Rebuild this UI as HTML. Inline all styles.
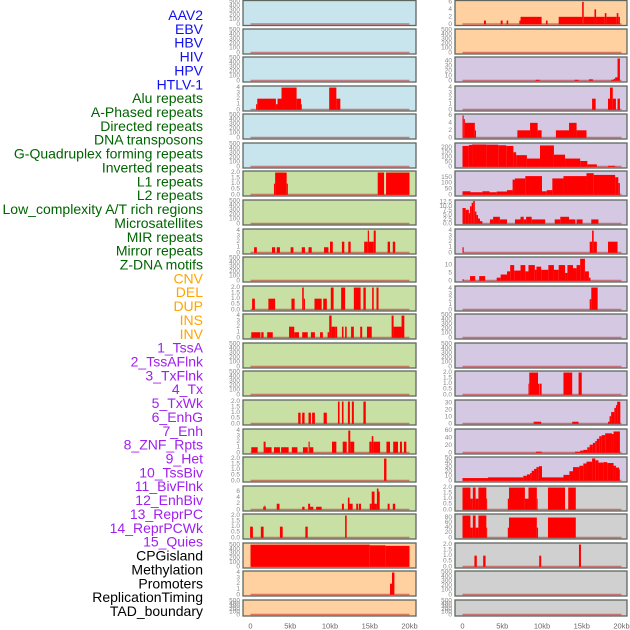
<!DOCTYPE html>
<html><head><meta charset="utf-8">
<style>
body{margin:0;background:#fff;}
svg{display:block;font-family:"Liberation Sans",sans-serif;}
</style></head>
<body>
<svg id="chart" width="630" height="630" viewBox="0 0 630 630" xmlns="http://www.w3.org/2000/svg"></svg>
<script>
// ---- labels ----
const labelNames = ["AAV2","EBV","HBV","HIV","HPV","HTLV-1","Alu repeats","A-Phased repeats","Directed repeats","DNA transposons","G-Quadruplex forming repeats","Inverted repeats","L1 repeats","L2 repeats","Low_complexity A/T rich regions","Microsatellites","MIR repeats","Mirror repeats","Z-DNA motifs","CNV","DEL","DUP","INS","INV","1_TssA","2_TssAFlnk","3_TxFlnk","4_Tx","5_TxWk","6_EnhG","7_Enh","8_ZNF_Rpts","9_Het","10_TssBiv","11_BivFlnk","12_EnhBiv","13_ReprPC","14_ReprPCWk","15_Quies","CPGisland","Methylation","Promoters","ReplicationTiming","TAD_boundary"];
const labelGroups = [0,0,0,0,0,0,1,1,1,1,1,1,1,1,1,1,1,1,1,2,2,2,2,2,3,3,3,3,3,3,3,3,3,3,3,3,3,3,3,4,4,4,4,4];
const groupColors = ["#1010ee","#006400","#ffa500","#a020f0","#000000"];
const xTicks = [0,5,10,15,20];
const xTickLabels = ["0","5kb","10kb","15kb","20kb"];

// ---- panel data: segments [startKb, endKb, value] ----
const L3 = [[0.7,0.85,1],[0.85,3.2,2],[3.2,3.4,1],[3.4,3.9,2],[3.9,5.8,4],[5.8,6.35,2],[6.35,6.45,1],[9.9,10.8,4],[10.8,11.3,2]];
const L6 = [[2.95,3.1,1],[3.1,4.55,2],[4.55,4.7,1],[16.0,16.8,2],[17.05,20,2]];
const L8 = [[0.45,0.8,1],[2.7,3.1,1],[3.3,3.7,1],[5.05,5.4,1],[6.45,6.85,1],[7.3,7.7,1],[9.25,9.8,1],[10,10.35,2],[11.5,11.8,2],[12.3,12.6,2],[14.3,14.75,2],[14.75,14.9,4],[14.9,15.5,2],[15.5,15.75,4],[17.25,17.55,2],[17.9,18.2,2]];
const L10 = [[0.2,0.55,1],[2.25,3.1,1],[5.15,5.55,1],[6.5,6.7,2],[6.7,6.85,1],[8.05,8.95,1],[9.15,9.6,1],[10.1,10.45,2],[11.4,11.9,2],[13.0,13.85,2],[14.2,14.5,2],[15.3,15.5,2],[15.85,16.1,2]];
const L11 = [[0.1,1.25,1],[1.35,1.65,1],[2.1,2.8,1],[4.85,5.15,2],[5.15,5.5,2],[5.5,6.1,1],[6.5,7.2,1],[7.6,8.1,1],[8.75,9.1,1],[9.7,9.9,1],[9.9,10.2,4],[10.2,10.65,2],[10.65,10.9,2],[11.5,11.7,2],[11.9,12.1,2],[12.65,13,2],[13.8,14.05,2],[14.65,15.25,2],[17.75,18,4],[18,19,2],[19,19.35,4]];
const L14 = [[6,6.3,1],[6.5,6.8,1],[7.3,7.6,1],[7.75,8.1,1],[9.2,9.6,1],[11,11.2,2],[11.5,11.7,2],[12.25,12.5,2],[12.75,13,2],[14.2,14.5,2]];
const L15 = [[0.1,0.9,1],[1.65,1.9,2],[1.9,2.65,1],[2.95,3.7,1],[3.85,4.8,1],[5.2,5.9,1],[6.6,7.2,1],[7.3,7.45,2],[7.45,7.9,1],[10.25,10.8,2],[11.6,12.1,2],[12.3,12.55,4],[12.55,13.05,2],[14.95,15.25,2],[15.25,15.45,3],[15.45,16.3,2],[17.1,17.55,2],[17.95,18.55,2],[18.8,19.05,2],[19.3,19.6,2]];
const L16 = [[16.8,17.1,2]];
const L17 = [[1.6,1.75,1],[1.75,1.85,1.4],[1.85,1.95,1],[3.3,3.65,2],[6.5,6.8,1],[7.25,7.5,2],[7.5,7.9,1],[8.25,8.95,1],[11.5,11.75,2],[12.25,12.45,4],[12.45,12.85,2],[13.3,13.55,2],[13.65,13.9,2],[15,15.25,2],[15.25,15.6,6],[15.6,15.9,2],[15.9,16.1,7],[16.1,16.25,6],[17.25,17.5,2],[17.9,18.2,2]];
const L18 = [[-0.05,0.3,1],[1.3,1.65,1],[3.7,4.05,1],[6.9,7.2,1],[11.9,12.1,2]];
const L19 = [[0,15,505],[15,17,490],[17,20,478]];
const L20 = [[17.55,17.8,2],[17.8,18.1,4]];

const R0 = [[2.7,2.95,1],[4.8,5.05,1],[5.55,5.75,1],[7.15,7.3,1],[7.3,9.95,2],[10.5,10.7,1],[12.1,15.05,2],[15.05,15.25,6],[15.25,16.6,2],[16.6,16.8,4],[16.8,17.9,2],[17.9,18.1,3],[18.1,19.4,2],[19.4,19.6,3],[19.6,19.8,2]];
const R2 = [[9.2,9.7,2],[14.1,14.6,2],[15.9,16.4,3],[18.7,19,2],[19,19.2,4],[19.2,19.5,7],[19.5,19.8,45]];
const R3 = [[16.3,16.75,2],[18.3,18.55,2],[18.55,18.9,4],[18.9,19.3,2],[19.5,19.8,2]];
const R4 = [[0,0.15,6],[0.15,0.3,5],[0.3,1.55,4],[1.55,1.7,2],[6.9,8.5,2],[8.5,9.45,4],[9.45,9.95,2],[11.75,13.4,2],[13.4,14.35,4],[14.35,15.6,2]];
const R5 = [[0,0.8,215],[0.8,1.2,225],[1.2,3,230],[3,4.5,228],[4.5,5.5,222],[5.5,6.4,215],[6.4,6.75,150],[6.75,8.1,120],[8.1,9.75,85],[9.75,11.5,220],[11.5,12.9,125],[12.9,14.8,85],[14.8,15.7,60],[15.7,16.9,25],[18.3,19.2,10]];
const R6 = [[0,1,30],[1,2.5,22],[2.5,3.4,30],[3.4,4.3,22],[4.3,5.6,28],[5.6,6.3,40],[6.3,6.6,130],[6.6,7.9,140],[7.9,10,160],[10,10.6,30],[10.6,11.3,40],[11.3,12.7,140],[12.7,15.6,160],[15.6,16.5,185],[16.5,19.2,170],[19.2,19.6,150],[19.6,19.8,100]];
const R7 = [[0,0.4,9],[0.4,0.8,8],[0.8,0.95,6],[0.95,1.15,10],[1.15,1.35,12],[1.35,1.55,13],[1.55,1.75,7],[1.75,1.95,5],[1.95,2.2,3],[2.2,2.5,1.5],[3.45,3.85,2.5],[3.85,4.7,4],[4.7,5.6,2.5],[6.6,7.3,2.5],[7.3,7.7,4],[7.7,8,2.5],[8,8.7,4],[8.7,10.4,2.5],[11.6,12.3,2.5],[12.3,13.4,4],[13.4,14.2,2.5],[14.35,15.1,2.5],[16.2,17.1,2.5]];
const R8 = [[0,0.15,1],[16.0,16.3,2],[16.3,16.5,4],[16.5,16.9,2],[18.3,19.5,2]];
const R9 = [[0,0.15,1],[0.95,1.6,3],[2.1,2.85,3],[4.3,4.8,2],[4.8,5.6,4],[5.6,6,6],[6,6.5,10],[6.5,7.3,6.5],[7.3,7.9,10],[7.9,8.3,6],[8.3,9.1,10],[9.1,9.3,7],[9.3,9.9,9],[9.9,10.8,7],[10.8,11.5,10],[11.5,12.1,7],[12.1,12.9,10],[12.9,13.2,5],[13.2,13.9,10],[13.9,14.35,8],[14.35,14.8,10],[14.8,15.4,14],[15.4,15.9,6],[15.9,16.1,2]];
const R10 = [[16.0,16.2,2],[16.2,17.0,4.2]];
const R13 = [[8.3,8.4,1],[8.4,9.5,2],[9.5,9.65,1],[9.7,9.95,1],[12.7,13.8,2],[14.6,15.0,2]];
const R14 = [[8.95,9.9,3],[13.8,14.6,3],[18.3,18.5,3],[18.5,18.7,11],[18.7,19.1,17],[19.1,19.3,23],[19.3,19.45,27],[19.45,19.85,32]];
const R15 = [[9.25,9.95,3],[14.15,14.8,3],[14.8,15.2,6],[15.2,15.7,8],[15.7,16.0,15],[16.0,16.4,22],[16.4,16.7,27],[16.7,16.9,32],[16.9,17.2,38],[17.2,17.5,45],[17.5,17.95,48],[17.95,18.8,53],[18.8,19,51],[19,19.8,58]];
const R16 = [[0,3.2,6],[3.2,7.65,7.5],[7.65,8.1,11],[8.1,8.5,14],[8.5,8.7,17],[8.7,9,22],[9,9.3,26],[9.3,9.6,30],[9.6,10,32],[10,12.7,7.5],[12.7,13.45,13],[13.45,13.9,21],[13.9,14.7,30],[14.7,15.2,33],[15.2,15.6,38],[15.6,16.3,42],[16.3,16.7,49],[16.7,17.1,45],[17.1,17.75,40],[17.75,18.2,41],[18.2,19.0,39],[19.0,19.3,33],[19.3,19.7,29],[19.7,19.8,25]];
const R17 = [[0,1,2],[1,1.3,1],[1.3,1.65,2],[1.65,2,1],[2,3,2],[3,3.1,1],[5.7,5.85,1],[5.85,7.85,2],[7.85,8.3,1],[8.3,9.35,2],[9.35,9.45,1],[10.75,12.9,2],[13.3,14.25,2]];
const R18 = [[0,1,88],[1,1.3,40],[1.3,1.65,88],[1.65,2,40],[2,3,88],[3,3.1,40],[5.7,5.85,40],[5.85,9.35,80],[9.35,9.5,40],[10.75,14.25,80]];
const R19 = [[1.5,1.8,1],[2.6,2.9,1],[9.65,9.9,1],[14.65,14.9,2]];

const BG = {b:"#c8e4ec",g:"#c8e0a4",o:"#ffd0a0",p:"#d5c8e2",y:"#d0d0d0"};
const panels = [
 [0,0,"b",null],[0,1,"b",null],[0,2,"b",null],[0,3,"b",4.1,1,0,L3],[0,4,"b",null],[0,5,"b",null],
 [0,6,"g",2.05,0.5,1,L6],[0,7,"g",null],[0,8,"g",4.1,1,0,L8],[0,9,"g",null],[0,10,"g",2.05,0.5,1,L10],
 [0,11,"g",4.1,1,0,L11],[0,12,"g",null],[0,13,"g",null],[0,14,"g",2.05,0.5,1,L14],[0,15,"g",4.1,1,0,L15],
 [0,16,"g",2.05,0.5,1,L16],[0,17,"g",7.5,2,0,L17],[0,18,"g",2.05,0.5,1,L18],[0,19,"o",520,100,0,L19],
 [0,20,"o",4.1,1,0,L20],[0,21,"o",null],
 [1,0,"o",6.1,2,0,R0],[1,1,"o",null],[1,2,"p",46,10,0,R2],[1,3,"p",4.1,1,0,R3],[1,4,"p",6.1,2,0,R4],
 [1,5,"p",235,50,0,R5],[1,6,"p",195,50,0,R6],[1,7,"p",13,2.5,1,R7],[1,8,"p",4.1,1,0,R8],[1,9,"p",14.5,5,0,R9],
 [1,10,"p",4.3,1,0,R10],[1,11,"p",null],[1,12,"p",null],[1,13,"p",2.05,0.5,1,R13],[1,14,"p",33,10,0,R14],
 [1,15,"p",62,20,0,R15],[1,16,"p",50,10,0,R16],[1,17,"y",2.05,0.5,1,R17],[1,18,"y",90,20,0,R18],
 [1,19,"y",2.05,0.5,1,R19],[1,20,"y",null],[1,21,"y",null]
];

const NS="http://www.w3.org/2000/svg";
const svg=document.getElementById("chart");
function mk(tag,attrs,parent){const e=document.createElementNS(NS,tag);for(const k in attrs)e.setAttribute(k,attrs[k]);(parent||svg).appendChild(e);return e;}

labelNames.forEach((n,i)=>{
  const t=mk("text",{x:203,y:15+i*13.86,"text-anchor":"end","dominant-baseline":"central","font-size":"14",fill:groupColors[labelGroups[i]]});
  t.textContent=n;
  
  
});

const colX=[243,455], colW=[173,172];
function xScale(col,kb){return colX[col]+7.5+kb*7.95;}

panels.forEach(p=>{
  const [col,row,bg]=p;
  let axisMax=p[3], step=p[4], dec=p[5], data=p[6];
  if(axisMax===null){axisMax=500;step=100;dec=0;data=[];}
  const top=row===0?0.5:Math.round(28.57*row);
  const h=row===21?16:25;
  const x0=colX[col], w=colW[col];
  const g=mk("g",{});
  
  
  const base=top+h-1.2, span=h-2.2;
  const yS=v=>base-v/axisMax*span;
  const r=mk("rect",{x:x0,y:top,width:w,height:h,fill:BG[bg],stroke:"#5f6660","stroke-width":"1.3"},g);
  
  
  const bl=mk("line",{x1:xScale(col,0),x2:xScale(col,20),y1:base-0.3,y2:base-0.3,stroke:"rgba(190,40,40,0.55)","stroke-width":"1.6"},g);
  
  
  data.forEach(s=>{
    const xa=xScale(col,s[0]), xb=xScale(col,s[1]);
    const b=mk("rect",{x:xa,y:yS(s[2]),width:Math.max(0.8,xb-xa),height:base-yS(s[2]),fill:"#ff0000"},g);
    
    
  });
  for(let v=0;v<=axisMax+1e-9;v+=step){
    const t=mk("text",{x:x0-3,y:yS(v),"text-anchor":"end","dominant-baseline":"central","font-size":"6.5",fill:"#888"},g);
    t.textContent=v.toFixed(dec);
    
    
  }
});

[0,1].forEach(col=>{
  xTicks.forEach((v,i)=>{
    const t=mk("text",{x:xScale(col,v),y:626,"text-anchor":"middle","dominant-baseline":"central","font-size":"7.5",fill:"#666"});
    t.textContent=xTickLabels[i];
    
    
  });
});
</script>
</body></html>
